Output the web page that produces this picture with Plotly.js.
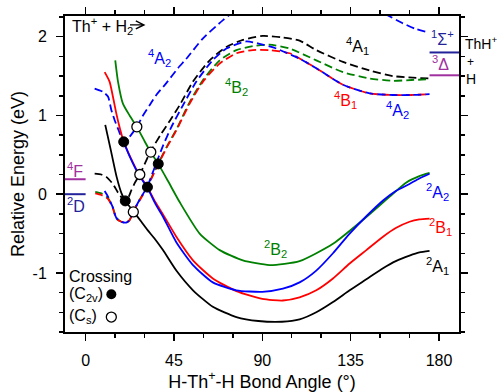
<!DOCTYPE html>
<html><head><meta charset="utf-8">
<script src="https://cdn.plot.ly/plotly-3.0.1.min.js"></script>
<style>html,body{margin:0;padding:0;background:#fff}#chart{width:498px;height:392px}</style>
</head><body><div id="chart"></div>
<script>
// ---------- data (bond angle in degrees, relative energy in eV) ----------
// doublet states (solid)
const a2A1_x = [10, 13, 15.8, 18.3, 20.2, 24.4, 28.4, 31.7, 35, 39.4, 46.2, 54.7, 64.8, 76.8, 88, 100, 109, 117.5, 126, 134.5, 143, 151.5, 158, 165, 170, 175.2];
const a2A1_y = [0.88, 0.54, 0.22, 0.01, -0.085, -0.22, -0.35, -0.46, -0.56, -0.71, -0.97, -1.22, -1.43, -1.56, -1.61, -1.62, -1.59, -1.50, -1.37, -1.22, -1.08, -0.94, -0.85, -0.78, -0.74, -0.72];

const b2B1_x = [9.7, 12.2, 13.9, 15.6, 17.5, 19.4, 22.8, 27, 31.5, 35.5, 39.5, 46.2, 54.7, 64.8, 76.8, 90, 100.5, 109, 117.5, 126, 134.5, 143, 151.5, 158, 165, 170, 175.2];
const b2B1_y = [1.55, 1.43, 1.24, 1.03, 0.83, 0.665, 0.47, 0.26, 0.09, -0.10, -0.26, -0.54, -0.84, -1.07, -1.23, -1.33, -1.35, -1.31, -1.22, -1.07, -0.88, -0.71, -0.54, -0.43, -0.35, -0.32, -0.31];

const a2A2_x = [19.4, 22.8, 27, 31.5, 35.5, 39.5, 46.2, 54.7, 64.8, 76.8, 90, 100.5, 109, 117.5, 126, 134.5, 143, 151.5, 158, 165, 170, 175.2];
const a2A2_y = [0.665, 0.46, 0.25, 0.08, -0.12, -0.29, -0.61, -0.90, -1.12, -1.22, -1.24, -1.20, -1.12, -0.97, -0.75, -0.50, -0.28, -0.08, 0.04, 0.13, 0.20, 0.26];

const b2B2_x = [15.1, 16.5, 19, 22.4, 26.1, 30.1, 33.3, 37, 41.9, 47.9, 58.1, 68.3, 80.1, 93.7, 109, 126, 143, 154.9, 163.4, 170, 175.2];
const b2B2_y = [1.70, 1.43, 1.15, 1.00, 0.855, 0.67, 0.53, 0.385, 0.17, -0.10, -0.50, -0.71, -0.84, -0.90, -0.85, -0.63, -0.29, -0.03, 0.15, 0.23, 0.27];

// quartet states (dashed)
const a4A1_x = [4.6, 8, 10.5, 13.9, 16.5, 19, 20.3, 22, 23.3, 25, 27.6, 30, 33, 38.1, 43.1, 47.9, 54.7, 63.2, 71.7, 80.1, 90.3, 100.5, 109, 117.5, 131.1, 144.7, 156.5, 166.7, 175.2];
const a4A1_y = [0.26, 0.25, 0.22, 0.13, 0.02, -0.06, -0.08, -0.03, 0.05, 0.14, 0.25, 0.38, 0.54, 0.75, 0.94, 1.13, 1.43, 1.70, 1.87, 1.96, 2.01, 1.99, 1.95, 1.83, 1.68, 1.57, 1.50, 1.48, 1.47];

const b4B1_x = [4.9, 8, 11.4, 13.9, 15.6, 18.2, 20.7, 22.4, 24.1, 27.5, 31.5, 34.3, 37, 41.5, 46.2, 53, 59.8, 68.3, 76.8, 85.2, 93.7, 103.9, 110, 117.5, 131.1, 144.7, 156.5, 166, 175.2];
const b4B1_y = [0.01, -0.01, -0.06, -0.18, -0.31, -0.35, -0.36, -0.33, -0.23, -0.08, 0.09, 0.24, 0.38, 0.60, 0.81, 1.15, 1.43, 1.66, 1.79, 1.83, 1.83, 1.79, 1.71, 1.60, 1.39, 1.28, 1.26, 1.26, 1.27];

const b4B2_x = [4.9, 8, 11.4, 13.9, 15.6, 18.2, 20.7, 22.4, 24.1, 27.5, 31.5, 34.3, 37, 41.5, 46.2, 53, 59.8, 68.3, 76.8, 85.2, 93.7, 103.9, 117.5, 131.1, 144.7, 156.5, 166, 175.2];
const b4B2_y = [0.03, 0.01, -0.05, -0.17, -0.30, -0.35, -0.36, -0.33, -0.23, -0.07, 0.10, 0.25, 0.39, 0.61, 0.82, 1.17, 1.45, 1.70, 1.83, 1.88, 1.90, 1.85, 1.70, 1.55, 1.47, 1.44, 1.45, 1.46];

const a4A2lo_x = [9.7, 11.4, 13.9, 15.6, 18.2, 20.7, 22.4, 24.1, 27.5, 31.5, 35, 39.5, 43.6, 49.6, 56.4, 64.7, 71.7, 81.9, 88.6, 97.1, 109, 117.5, 131.1, 144.7, 156.5, 166, 175.2];
const a4A2lo_y = [0.04, -0.03, -0.17, -0.30, -0.35, -0.36, -0.33, -0.23, -0.07, 0.10, 0.33, 0.62, 0.85, 1.13, 1.43, 1.70, 1.85, 1.94, 1.91, 1.85, 1.72, 1.60, 1.39, 1.28, 1.26, 1.26, 1.27];

const a4A2hi_x = [4.6, 8.8, 11.4, 13.1, 14.8, 17, 19.4, 22.4, 26.1, 29, 32.6, 36, 41.1, 47, 51.3, 59.8, 70, 80, 95, 110, 125, 140, 150, 154, 161.6, 168, 173.6];
const a4A2hi_y = [1.34, 1.30, 1.24, 1.07, 0.94, 0.80, 0.665, 0.73, 0.855, 0.99, 1.13, 1.26, 1.41, 1.60, 1.72, 1.98, 2.21, 2.40, 2.55, 2.60, 2.55, 2.42, 2.32, 2.27, 2.17, 2.10, 2.06];

// crossings
const crossC2v_x = [19.4, 37.0, 31.5, 20.2];
const crossC2v_y = [0.665, 0.385, 0.09, -0.085];
const crossCs_x = [26.1, 33.2, 27.6, 24.3];
const crossCs_y = [0.855, 0.535, 0.25, -0.225];

// asymptotes
const asymLeft_names = ['4F', '2D'];
const asymLeft_E = [0.19, 0.0];
const asymRight_names = ['1Sigma+', '3Delta'];
const asymRight_E = [1.80, 1.51];

// tick labels
const xTickVals = [0, 45, 90, 135, 180];
const xTickText = ['0', '45', '90', '135', '180'];
const yTickVals = [-1, 0, 1, 2];
const yTickText = ['-1', '0', '1', '2'];

const xRange = [-10.5, 190.2];
const yRange = [-1.75, 2.263];

// ---------- styling ----------
const BLACK = '#000000', RED = '#ff0000', BLUE = '#0000ff', GREEN = '#008000';
const NAVY = '#22229a', PURPLE = '#a030a0';
const DASH = '8px,4px';
const LW = 1.8;

function line(x, y, color, dash) {
  return {x: x, y: y, mode: 'lines', type: 'scatter', hoverinfo: 'skip', showlegend: false,
          line: {color: color, width: LW, dash: dash || 'solid', shape: 'spline', smoothing: 0.6}};
}

const traces = [
  line(a4A2hi_x, a4A2hi_y, BLUE, DASH),
  line(a4A1_x, a4A1_y, BLACK, DASH),
  line(b4B2_x, b4B2_y, GREEN, DASH),
  line(b4B1_x, b4B1_y, RED, DASH),
  line(a4A2lo_x, a4A2lo_y, BLUE, DASH),
  line(a2A1_x, a2A1_y, BLACK),
  line(b2B2_x, b2B2_y, GREEN),
  line(b2B1_x, b2B1_y, RED),
  line(a2A2_x, a2A2_y, BLUE),
];

// asymptote bars
const asymLeftColors = [PURPLE, NAVY];
asymLeft_E.forEach((e, i) => {
  traces.push({x: [xRange[0], 0], y: [e, e], mode: 'lines', hoverinfo: 'skip', showlegend: false,
               line: {color: asymLeftColors[i], width: 2}, cliponaxis: false});
});
const asymRightColors = [NAVY, PURPLE];
asymRight_E.forEach((e, i) => {
  traces.push({x: [175.2, xRange[1]], y: [e, e], mode: 'lines', hoverinfo: 'skip', showlegend: false,
               line: {color: asymRightColors[i], width: 2}, cliponaxis: false});
});

// crossing markers
traces.push({x: crossC2v_x, y: crossC2v_y, mode: 'markers', hoverinfo: 'skip', showlegend: false,
  marker: {size: 10, color: BLACK, line: {color: BLACK, width: 1}}});
traces.push({x: crossCs_x, y: crossCs_y, mode: 'markers', hoverinfo: 'skip', showlegend: false,
  marker: {size: 10, color: '#ffffff', line: {color: BLACK, width: 1.3}}});

// legend keys
const keyX = [13.1, 13.1];
const keyY = [-1.27, -1.56];
traces.push({x: [keyX[0]], y: [keyY[0]], mode: 'markers', hoverinfo: 'skip', showlegend: false,
  marker: {size: 10, color: BLACK}});
traces.push({x: [keyX[1]], y: [keyY[1]], mode: 'markers', hoverinfo: 'skip', showlegend: false,
  marker: {size: 10, color: '#ffffff', line: {color: BLACK, width: 1.3}}});

const F = 'Arial, "Liberation Sans", sans-serif';
function lab(text, x, y, color, anchor) {
  return {text: text, x: x, y: y, xref: 'x', yref: 'y', showarrow: false,
          xanchor: anchor || 'center', yanchor: 'middle', font: {family: F, size: 16, color: color}};
}
function plab(text, x, y, color, size) {
  return {text: text, x: x, y: y, xref: 'paper', yref: 'paper', showarrow: false,
          xanchor: 'left', yanchor: 'middle', font: {family: F, size: size || 14, color: color}};
}

const annotations = [
  lab('Th<sup>+</sup> + H<sub>2</sub>', -8.2, 2.13, BLACK, 'left'),
  {x: 30.5, y: 2.15, xref: 'x', yref: 'y', ax: -17, ay: 0, axref: 'pixel', ayref: 'pixel',
   showarrow: true, arrowhead: 5, arrowsize: 1.3, arrowwidth: 1.2, arrowcolor: BLACK, text: ''},
  lab('<sup>4</sup>A<sub>2</sub>', 37.7, 1.73, BLUE),
  lab('<sup>4</sup>A<sub>1</sub>', 138.6, 1.88, BLACK),
  lab('<sup>4</sup>B<sub>2</sub>', 76.9, 1.36, GREEN),
  lab('<sup>4</sup>B<sub>1</sub>', 132.4, 1.19, RED),
  lab('<sup>4</sup>A<sub>2</sub>', 158.9, 1.07, BLUE),
  lab('<sup>1</sup>Σ<sup>+</sup>', 181.9, 1.98, NAVY),
  lab('<sup>3</sup>Δ', 180.8, 1.67, PURPLE),
  lab('<sup>4</sup>F', -5.4, 0.31, PURPLE),
  lab('<sup>2</sup>D', -5.1, -0.14, NAVY),
  lab('<sup>2</sup>A<sub>2</sub>', 179.3, 0.03, BLUE),
  lab('<sup>2</sup>B<sub>1</sub>', 180.8, -0.42, RED),
  lab('<sup>2</sup>A<sub>1</sub>', 179.3, -0.91, BLACK),
  lab('<sup>2</sup>B<sub>2</sub>', 96.8, -0.70, GREEN),
  lab('Crossing', -9.3, -1.04, BLACK, 'left'),
  lab('(C<sub>2v</sub>)', -9.3, -1.28, BLACK, 'left'),
  lab('(C<sub>s</sub>)', -9.3, -1.55, BLACK, 'left'),
  plab('ThH<sup>+</sup>', 1.01, 0.913, BLACK, 14),
  plab('+', 1.014, 0.855, BLACK, 12),
  plab('H', 1.013, 0.802, BLACK, 14),
];

const axisCommon = {
  showgrid: false, zeroline: false, showline: true, linecolor: BLACK, linewidth: 2,
  mirror: 'ticks', ticks: 'outside', ticklen: 7, tickwidth: 1.5, tickcolor: BLACK,
  tickfont: {family: F, size: 16, color: BLACK}, tickmode: 'array', autorange: false
};

const layout = {
  width: 498, height: 392,
  margin: {l: 65, r: 39, t: 16, b: 60},
  paper_bgcolor: '#ffffff', plot_bgcolor: '#ffffff',
  font: {family: F, size: 16, color: BLACK},
  xaxis: Object.assign({}, axisCommon, {
    range: xRange, tickvals: xTickVals, ticktext: xTickText, ticklabelstandoff: 6,
    minor: {tickmode: 'linear', tick0: 0, dtick: 15, ticks: 'outside', ticklen: 4, tickwidth: 1.5, tickcolor: BLACK},
    title: {text: 'H-Th<sup>+</sup>-H Bond Angle (°)', font: {family: F, size: 18, color: BLACK}, standoff: 10}
  }),
  yaxis: Object.assign({}, axisCommon, {
    range: yRange, tickvals: yTickVals, ticktext: yTickText, ticklabelstandoff: 6,
    minor: {tickmode: 'linear', tick0: 0, dtick: 0.25, ticks: 'outside', ticklen: 4, tickwidth: 1.5, tickcolor: BLACK},
    title: {text: 'Relative Energy (eV)', font: {family: F, size: 18, color: BLACK}, standoff: 3}
  }),
  annotations: annotations,
  showlegend: false
};

Plotly.newPlot('chart', traces, layout, {staticPlot: true, displayModeBar: false});
</script></body></html>
